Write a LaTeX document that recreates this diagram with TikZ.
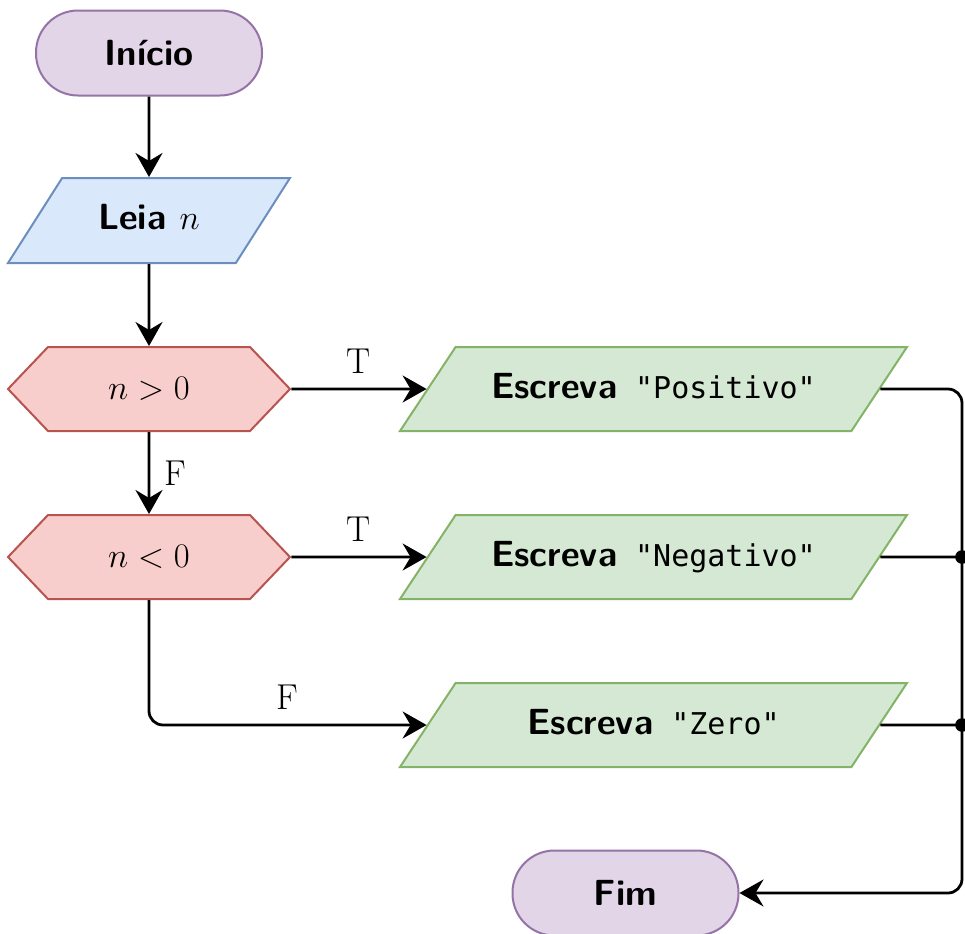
\documentclass[tikz,border=0pt]{standalone}
\usepackage{fontspec}
\newfontfamily\codefont{DejaVu Sans Mono}
\usetikzlibrary{shapes.geometric,shapes.symbols,arrows.meta,calc}

\definecolor{termfill}{HTML}{E1D5E7}
\definecolor{termline}{HTML}{9673A6}
\definecolor{infill}{HTML}{DAE8FC}
\definecolor{inline}{HTML}{6C8EBF}
\definecolor{decfill}{HTML}{F8CECC}
\definecolor{decline}{HTML}{B85450}
\definecolor{outfill}{HTML}{D5E8D4}
\definecolor{outline}{HTML}{82B366}

\tikzset{
  boldlabel/.style={font=\sffamily\bfseries\fontsize{18.2}{22}\selectfont},
  terminal/.style={boldlabel, draw=termline, fill=termfill, line width=1pt,
    rounded corners=21pt, minimum width=113pt, minimum height=42.5pt},
  slanted/.style={boldlabel, line width=1pt, trapezium,
    trapezium stretches body, text height=12.5pt, text depth=3.5pt},
  inputbox/.style={slanted, draw=inline, fill=infill,
    trapezium left angle=57.5, trapezium right angle=122.5,
    inner ysep=13.25pt, minimum width=141pt},
  outputbox/.style={slanted, draw=outline, fill=outfill,
    trapezium left angle=56.5, trapezium right angle=123.5,
    inner ysep=13pt, minimum width=253.5pt},
  decision/.style={font=\fontsize{17.8}{22}\selectfont, draw=decline, fill=decfill,
    line width=1pt, signal, signal to=west and east, signal pointer angle=92.8,
    minimum width=141pt, minimum height=42pt},
  flow/.style={line width=1.4pt, -{Stealth[length=12pt,width=13.5pt,inset=4pt]}},
  wire/.style={line width=1.4pt},
  branch/.style={font=\fontsize{18}{21}\selectfont}
}
\newcommand{\printed}[1]{Escreva\hspace{9pt}{\codefont\mdseries\fontsize{15}{18}\selectfont"#1"}}

\begin{document}
\begin{tikzpicture}[x=0.5pt,y=-0.5pt]
\useasboundingbox (0,0) rectangle (965,933);

% main column
\node[terminal] (start) at (149,53) {Início};
\node[inputbox] (read) at (149,220.5) {Leia $n$};
\node[decision] (dec1) at (149,389) {$n>0$};
\node[decision] (dec2) at (149,557) {$n<0$};

% output column
\node[outputbox] (out1) at (653.5,389) {\printed{Positivo}};
\node[outputbox] (out2) at (653.5,557) {\printed{Negativo}};
\node[outputbox] (out3) at (653.5,725) {\printed{Zero}};

\node[terminal] (fim) at (625.5,893) {Fim};

% bus on the right
\coordinate (busTop) at (962,389);
\coordinate (busBot) at (962,893);
\coordinate (j2) at (busTop |- out2);
\coordinate (j3) at (busTop |- out3);

% connectors
\draw[flow] (start) -- (read);
\draw[flow] (read) -- (dec1);
\draw[flow] (dec1) -- node[branch, right=3.5pt] {F} (dec2);
\draw[flow] (dec1) -- node[branch, above=3.5pt] {T} (out1);
\draw[flow] (dec2) -- node[branch, above=3.5pt] {T} (out2);
\draw[flow, rounded corners=7pt] (dec2) |- node[branch, pos=0.75, above=3.5pt] {F} (out3);

\draw[flow, rounded corners=7pt] (out1) -- (busTop) -- (busBot) -- (fim);
\draw[wire] (out2) -- (j2);
\draw[wire] (out3) -- (j3);
\fill (j2) circle (3.4pt);
\fill (j3) circle (3.4pt);
\end{tikzpicture}
\end{document}
